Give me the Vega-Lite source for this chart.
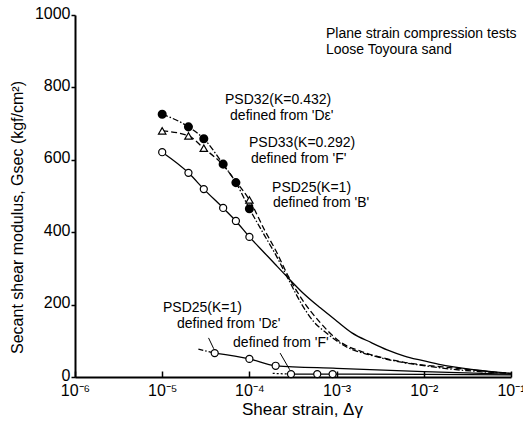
{
  "$schema": "https://vega.github.io/schema/vega-lite/v6.json",
  "width": 436,
  "height": 362,
  "autosize": {"type": "none"},
  "padding": {"left": 75, "top": 15, "right": 12, "bottom": 51},
  "background": "white",
  "config": {
    "view": {"stroke": null},
    "font": "Liberation Sans",
    "axis": {
      "grid": false,
      "domainColor": "black",
      "domainWidth": 2,
      "tickColor": "black",
      "tickWidth": 1.5,
      "labelColor": "black",
      "titleColor": "black",
      "labelFont": "Liberation Sans",
      "titleFont": "Liberation Sans",
      "titleFontWeight": "normal",
      "labelFontSize": 17,
      "titleFontSize": 16
    }
  },
  "datasets": {
    "lineB": [
      {"x": 1e-5, "y": 621}, {"x": 2e-5, "y": 564}, {"x": 3e-5, "y": 519}, {"x": 5e-5, "y": 467},
      {"x": 7e-5, "y": 431}, {"x": 1e-4, "y": 387}, {"x": 1.5e-4, "y": 342}, {"x": 2e-4, "y": 310},
      {"x": 2.8e-4, "y": 273}, {"x": 4e-4, "y": 235}, {"x": 6.5e-4, "y": 191}, {"x": 1e-3, "y": 155},
      {"x": 1.5e-3, "y": 122}, {"x": 2.5e-3, "y": 95}, {"x": 3.8e-3, "y": 75}, {"x": 6e-3, "y": 58},
      {"x": 9e-3, "y": 47}, {"x": 1.5e-2, "y": 35}, {"x": 2.2e-2, "y": 28}, {"x": 3.5e-2, "y": 21},
      {"x": 5.3e-2, "y": 16}, {"x": 1e-1, "y": 10}
    ],
    "line33": [
      {"x": 1e-5, "y": 680}, {"x": 2e-5, "y": 666}, {"x": 3e-5, "y": 632}, {"x": 5e-5, "y": 585},
      {"x": 7e-5, "y": 540}, {"x": 1e-4, "y": 489}, {"x": 1.5e-4, "y": 405}, {"x": 2e-4, "y": 350},
      {"x": 2.8e-4, "y": 278}, {"x": 4e-4, "y": 215}, {"x": 6.5e-4, "y": 150}, {"x": 1.1e-3, "y": 97},
      {"x": 2e-3, "y": 69}, {"x": 3.5e-3, "y": 52}, {"x": 5.8e-3, "y": 41}, {"x": 1e-2, "y": 33},
      {"x": 2.2e-2, "y": 25}, {"x": 5e-2, "y": 16}, {"x": 1e-1, "y": 10}
    ],
    "line32": [
      {"x": 1e-5, "y": 726}, {"x": 2e-5, "y": 691}, {"x": 3e-5, "y": 658}, {"x": 5e-5, "y": 588},
      {"x": 7e-5, "y": 537}, {"x": 1e-4, "y": 465}, {"x": 1.5e-4, "y": 390}, {"x": 2e-4, "y": 338},
      {"x": 2.8e-4, "y": 270}, {"x": 4e-4, "y": 200}, {"x": 5.5e-4, "y": 152}, {"x": 7.7e-4, "y": 121},
      {"x": 1.3e-3, "y": 83}, {"x": 2.4e-3, "y": 61}, {"x": 4.5e-3, "y": 45}, {"x": 9e-3, "y": 33},
      {"x": 2e-2, "y": 22}, {"x": 5e-2, "y": 14}, {"x": 1e-1, "y": 10}
    ],
    "lineDe": [
      {"x": 4e-5, "y": 66}, {"x": 1e-4, "y": 50}, {"x": 2e-4, "y": 31}, {"x": 1e-3, "y": 24},
      {"x": 1e-2, "y": 15}, {"x": 1e-1, "y": 8}
    ],
    "lineDeExt": [
      {"x": 2.6e-5, "y": 77}, {"x": 4e-5, "y": 66}
    ],
    "lineF": [
      {"x": 3e-4, "y": 8}, {"x": 6e-4, "y": 8}, {"x": 9e-4, "y": 8}, {"x": 1e-2, "y": 7}, {"x": 1e-1, "y": 6}
    ],
    "lineFExt": [
      {"x": 1.85e-4, "y": 10}, {"x": 3e-4, "y": 8}
    ],
    "leaders": [
      {"x": 3.4e-5, "y": 108, "x2": 3.9e-5, "y2": 78},
      {"x": 2.25e-4, "y": 66, "x2": 2.9e-4, "y2": 20}
    ],
    "openPts": [
      {"x": 1e-5, "y": 621}, {"x": 2e-5, "y": 564}, {"x": 3e-5, "y": 519}, {"x": 5e-5, "y": 467},
      {"x": 7e-5, "y": 431}, {"x": 1e-4, "y": 387},
      {"x": 4e-5, "y": 66}, {"x": 1e-4, "y": 50}, {"x": 2e-4, "y": 31},
      {"x": 3e-4, "y": 8}, {"x": 6e-4, "y": 8}, {"x": 9e-4, "y": 8}
    ],
    "filledPts": [
      {"x": 1e-5, "y": 726}, {"x": 2e-5, "y": 691}, {"x": 3e-5, "y": 658}, {"x": 5e-5, "y": 588},
      {"x": 7e-5, "y": 537}, {"x": 1e-4, "y": 465}
    ],
    "triPts": [
      {"x": 1e-5, "y": 680}, {"x": 2e-5, "y": 666}, {"x": 3e-5, "y": 632}, {"x": 1e-4, "y": 489}
    ],
    "labels": [
      {"x": 7.55e-4, "y": 947, "text": "Plane strain compression tests"},
      {"x": 7.55e-4, "y": 903, "text": "Loose Toyoura sand"},
      {"x": 5.25e-5, "y": 765, "text": "PSD32(K=0.432)"},
      {"x": 6.0e-5, "y": 721, "text": "defined from 'Dε'"},
      {"x": 9.9e-5, "y": 646, "text": "PSD33(K=0.292)"},
      {"x": 1.04e-4, "y": 602, "text": "defined from 'F'"},
      {"x": 1.82e-4, "y": 522, "text": "PSD25(K=1)"},
      {"x": 1.86e-4, "y": 481, "text": "defined from 'B'"},
      {"x": 1.02e-5, "y": 191, "text": "PSD25(K=1)"},
      {"x": 1.48e-5, "y": 146, "text": "defined from 'Dε'"},
      {"x": 6.5e-5, "y": 94, "text": "defined from 'F'"}
    ]
  },
  "encoding": {
    "x": {
      "field": "x", "type": "quantitative",
      "scale": {"type": "log", "domain": [1e-6, 0.1]},
      "axis": {
        "values": [1e-6, 1e-5, 1e-4, 1e-3, 1e-2, 1e-1],
        "labelExpr": "'10' + ['⁻⁶','⁻⁵','⁻⁴','⁻³','⁻²','⁻¹'][round(log(datum.value)/LN10) + 6]",
        "tickSize": -6,
        "labelPadding": 11,
        "labelFontSize": 16,
        "labelFlush": false,
        "title": "Shear strain, Δγ",
        "titleFontSize": 17,
        "titleX": 227,
        "titleY": 32,
        "titleAlign": "center",
        "titleBaseline": "middle"
      }
    },
    "y": {
      "field": "y", "type": "quantitative",
      "scale": {"domain": [0, 1000], "nice": false},
      "axis": {
        "values": [0, 200, 400, 600, 800, 1000],
        "format": "d",
        "tickSize": 4,
        "labelPadding": 1,
        "labelFontSize": 16,
        "labelOffset": -2,
        "title": "Secant shear modulus, Gsec (kgf/cm²)",
        "titleX": -58,
        "titleY": 202,
        "titleAngle": -90,
        "titleAlign": "center",
        "titleBaseline": "middle"
      }
    }
  },
  "layer": [
    {"data": {"name": "lineB"}, "mark": {"type": "line", "color": "black", "strokeWidth": 1.3, "interpolate": "monotone"}},
    {"data": {"name": "line33"}, "mark": {"type": "line", "color": "black", "strokeWidth": 1.3, "interpolate": "monotone", "strokeDash": [6, 3]}},
    {"data": {"name": "line32"}, "mark": {"type": "line", "color": "black", "strokeWidth": 1.3, "interpolate": "monotone", "strokeDash": [6, 2, 1.5, 2]}},
    {"data": {"name": "lineDe"}, "mark": {"type": "line", "color": "black", "strokeWidth": 1.3, "interpolate": "monotone"}},
    {"data": {"name": "lineDeExt"}, "mark": {"type": "line", "color": "black", "strokeWidth": 1.3, "strokeDash": [5, 2, 1.5, 2]}},
    {"data": {"name": "lineF"}, "mark": {"type": "line", "color": "black", "strokeWidth": 1.3, "interpolate": "monotone"}},
    {"data": {"name": "lineFExt"}, "mark": {"type": "line", "color": "black", "strokeWidth": 1.3, "strokeDash": [2, 2]}},
    {"data": {"name": "leaders"}, "mark": {"type": "rule", "color": "black", "strokeWidth": 1}, "encoding": {"x2": {"field": "x2"}, "y2": {"field": "y2"}}},
    {"data": {"name": "openPts"}, "mark": {"type": "point", "shape": "circle", "filled": true, "fill": "white", "stroke": "black", "strokeWidth": 1.2, "size": 50, "opacity": 1}},
    {"data": {"name": "filledPts"}, "mark": {"type": "point", "shape": "circle", "filled": true, "fill": "black", "stroke": "black", "size": 50, "opacity": 1}},
    {"data": {"name": "triPts"}, "mark": {"type": "point", "shape": "triangle-up", "filled": true, "fill": "white", "stroke": "black", "strokeWidth": 1.2, "size": 55, "opacity": 1}},
    {"data": {"name": "labels"}, "mark": {"type": "text", "align": "left", "baseline": "middle", "fontSize": 14, "font": "Liberation Sans", "color": "black"}, "encoding": {"text": {"field": "text"}}}
  ]
}
